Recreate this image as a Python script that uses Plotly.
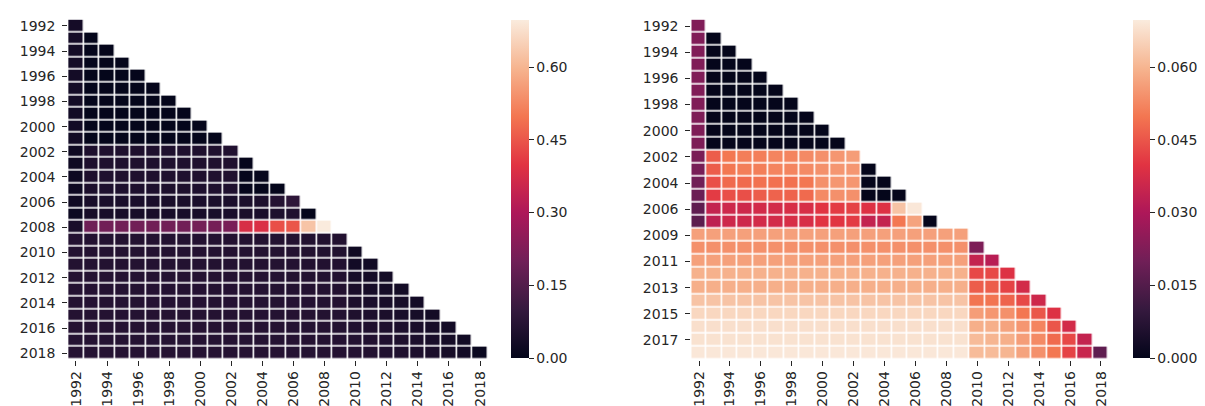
import plotly.graph_objects as go

# ---------------- data ----------------
col_years = list(range(1992, 2019))

left_row_labels = [str(y) for y in range(1992, 2019)]
left_rows = [
    [0.035],
    [0.035, 0.004],
    [0.034, 0.004, 0.004],
    [0.034, 0.004, 0.004, 0.004],
    [0.034, 0.004, 0.004, 0.004, 0.004],
    [0.034, 0.004, 0.004, 0.004, 0.004, 0.004],
    [0.033, 0.004, 0.004, 0.004, 0.004, 0.004, 0.004],
    [0.030, 0.004, 0.004, 0.004, 0.004, 0.004, 0.004, 0.004],
    [0.030, 0.004, 0.004, 0.004, 0.004, 0.004, 0.004, 0.004, 0.004],
    [0.030, 0.004, 0.004, 0.004, 0.004, 0.004, 0.004, 0.004, 0.004, 0.004],
    [0.022, 0.052, 0.056, 0.056, 0.056, 0.056, 0.055, 0.055, 0.056, 0.058, 0.060],
    [0.022, 0.052, 0.056, 0.056, 0.056, 0.056, 0.055, 0.055, 0.056, 0.058, 0.058, 0.005],
    [0.022, 0.052, 0.056, 0.056, 0.056, 0.056, 0.055, 0.055, 0.056, 0.058, 0.058, 0.005, 0.005],
    [0.022, 0.050, 0.054, 0.054, 0.054, 0.054, 0.053, 0.053, 0.054, 0.056, 0.056, 0.005, 0.004, 0.004],
    [0.026, 0.044, 0.046, 0.046, 0.046, 0.046, 0.045, 0.045, 0.046, 0.048, 0.048, 0.048, 0.050, 0.066, 0.085],
    [0.018, 0.040, 0.042, 0.042, 0.042, 0.042, 0.041, 0.041, 0.042, 0.043, 0.044, 0.045, 0.046, 0.054, 0.058, 0.004],
    [0.045, 0.195, 0.200, 0.200, 0.200, 0.200, 0.200, 0.200, 0.205, 0.208, 0.212, 0.380, 0.385, 0.440, 0.450, 0.627, 0.697],
    [0.064, 0.064, 0.064, 0.064, 0.064, 0.064, 0.064, 0.064, 0.064, 0.064, 0.064, 0.064, 0.064, 0.064, 0.064, 0.062, 0.062, 0.062],
    [0.064, 0.064, 0.064, 0.064, 0.064, 0.064, 0.064, 0.064, 0.064, 0.064, 0.064, 0.064, 0.064, 0.064, 0.063, 0.062, 0.060, 0.058, 0.025],
    [0.064, 0.064, 0.064, 0.064, 0.064, 0.064, 0.064, 0.064, 0.064, 0.064, 0.064, 0.064, 0.064, 0.064, 0.063, 0.062, 0.062, 0.060, 0.032, 0.030],
    [0.065, 0.065, 0.065, 0.065, 0.065, 0.065, 0.065, 0.065, 0.065, 0.065, 0.065, 0.065, 0.065, 0.065, 0.064, 0.064, 0.063, 0.062, 0.040, 0.036, 0.034],
    [0.065, 0.065, 0.065, 0.065, 0.065, 0.065, 0.065, 0.065, 0.065, 0.065, 0.065, 0.065, 0.065, 0.065, 0.064, 0.064, 0.063, 0.062, 0.045, 0.040, 0.036, 0.033],
    [0.066, 0.066, 0.066, 0.066, 0.066, 0.066, 0.066, 0.066, 0.066, 0.066, 0.066, 0.066, 0.066, 0.066, 0.065, 0.065, 0.064, 0.063, 0.050, 0.046, 0.042, 0.040, 0.032],
    [0.066, 0.066, 0.066, 0.066, 0.066, 0.066, 0.066, 0.066, 0.066, 0.066, 0.066, 0.066, 0.066, 0.066, 0.065, 0.065, 0.064, 0.063, 0.055, 0.052, 0.048, 0.044, 0.040, 0.033],
    [0.067, 0.067, 0.067, 0.067, 0.067, 0.067, 0.067, 0.067, 0.067, 0.067, 0.067, 0.067, 0.067, 0.067, 0.066, 0.066, 0.065, 0.064, 0.060, 0.056, 0.053, 0.049, 0.045, 0.040, 0.032],
    [0.068, 0.068, 0.068, 0.068, 0.068, 0.068, 0.068, 0.068, 0.068, 0.068, 0.068, 0.068, 0.068, 0.068, 0.067, 0.067, 0.066, 0.065, 0.063, 0.060, 0.057, 0.053, 0.049, 0.044, 0.038, 0.030],
    [0.069, 0.069, 0.069, 0.069, 0.069, 0.069, 0.069, 0.069, 0.069, 0.069, 0.069, 0.069, 0.069, 0.069, 0.068, 0.068, 0.067, 0.066, 0.066, 0.063, 0.060, 0.056, 0.052, 0.047, 0.040, 0.032, 0.014],
]

right_row_labels = [str(y) for y in list(range(1992, 2008)) + list(range(2009, 2019))]
right_rows = [
    [0.0225],
    [0.0225, 0.0003],
    [0.0225, 0.0003, 0.0003],
    [0.0225, 0.0003, 0.0003, 0.0003],
    [0.0225, 0.0003, 0.0003, 0.0003, 0.0003],
    [0.0225, 0.0003, 0.0003, 0.0003, 0.0003, 0.0003],
    [0.0225, 0.0003, 0.0003, 0.0003, 0.0003, 0.0003, 0.0003],
    [0.0222, 0.0003, 0.0003, 0.0003, 0.0003, 0.0003, 0.0003, 0.0003],
    [0.0222, 0.0003, 0.0003, 0.0003, 0.0003, 0.0003, 0.0003, 0.0003, 0.0003],
    [0.0220, 0.0003, 0.0003, 0.0003, 0.0003, 0.0003, 0.0003, 0.0003, 0.0003, 0.0003],
    [0.0215, 0.046, 0.050, 0.051, 0.051, 0.052, 0.052, 0.053, 0.054, 0.055, 0.056],
    [0.0212, 0.046, 0.050, 0.051, 0.051, 0.052, 0.052, 0.053, 0.054, 0.055, 0.055, 0.0003],
    [0.0200, 0.044, 0.048, 0.048, 0.049, 0.049, 0.049, 0.050, 0.054, 0.055, 0.055, 0.0003, 0.0003],
    [0.0190, 0.041, 0.044, 0.044, 0.046, 0.047, 0.047, 0.048, 0.053, 0.054, 0.054, 0.0003, 0.0003, 0.0003],
    [0.0170, 0.034, 0.036, 0.036, 0.037, 0.037, 0.038, 0.038, 0.040, 0.041, 0.042, 0.039, 0.039, 0.0625, 0.0690],
    [0.0165, 0.033, 0.036, 0.036, 0.037, 0.037, 0.038, 0.038, 0.040, 0.040, 0.041, 0.034, 0.034, 0.0500, 0.0570, 0.0003],
    [0.0565, 0.0565, 0.0565, 0.0565, 0.0565, 0.0565, 0.0565, 0.0565, 0.0565, 0.0565, 0.0565, 0.0565, 0.0565, 0.0565, 0.0565, 0.0565, 0.0565, 0.0565],
    [0.054, 0.054, 0.054, 0.054, 0.054, 0.054, 0.054, 0.054, 0.054, 0.054, 0.054, 0.054, 0.054, 0.054, 0.054, 0.054, 0.054, 0.054, 0.022],
    [0.0565, 0.0565, 0.0565, 0.0565, 0.0565, 0.0565, 0.0565, 0.0565, 0.0565, 0.0565, 0.0565, 0.0565, 0.0565, 0.0565, 0.0565, 0.0565, 0.0565, 0.0565, 0.034, 0.032],
    [0.0593, 0.0593, 0.0593, 0.0593, 0.0593, 0.0593, 0.0593, 0.0593, 0.0593, 0.0593, 0.0593, 0.0593, 0.0593, 0.0593, 0.0593, 0.0593, 0.0593, 0.0593, 0.043, 0.043, 0.039],
    [0.059, 0.059, 0.059, 0.059, 0.059, 0.059, 0.059, 0.059, 0.059, 0.059, 0.059, 0.059, 0.059, 0.059, 0.059, 0.059, 0.059, 0.059, 0.046, 0.046, 0.042, 0.037],
    [0.0625, 0.0625, 0.0625, 0.0625, 0.0625, 0.0625, 0.0625, 0.0625, 0.0625, 0.0625, 0.0625, 0.0625, 0.0625, 0.0625, 0.0625, 0.0625, 0.0625, 0.0625, 0.0495, 0.0495, 0.047, 0.043, 0.036],
    [0.066, 0.066, 0.066, 0.066, 0.066, 0.066, 0.066, 0.066, 0.066, 0.066, 0.066, 0.066, 0.066, 0.066, 0.066, 0.066, 0.066, 0.066, 0.056, 0.055, 0.054, 0.050, 0.045, 0.039],
    [0.0675, 0.0675, 0.0675, 0.0675, 0.0675, 0.0675, 0.0675, 0.0675, 0.0675, 0.0675, 0.0675, 0.0675, 0.0675, 0.0675, 0.0675, 0.0675, 0.0675, 0.0675, 0.059, 0.059, 0.057, 0.055, 0.052, 0.045, 0.037],
    [0.068, 0.068, 0.068, 0.068, 0.068, 0.068, 0.068, 0.068, 0.068, 0.068, 0.068, 0.068, 0.068, 0.068, 0.068, 0.068, 0.068, 0.068, 0.061, 0.060, 0.059, 0.056, 0.053, 0.048, 0.043, 0.034],
    [0.069, 0.069, 0.069, 0.069, 0.069, 0.069, 0.069, 0.069, 0.069, 0.069, 0.069, 0.069, 0.069, 0.069, 0.069, 0.069, 0.069, 0.069, 0.061, 0.061, 0.060, 0.057, 0.054, 0.050, 0.042, 0.035, 0.017],
]

left_max = 0.697
right_max = 0.0697
left_cbar_ticks = [0.0, 0.15, 0.30, 0.45, 0.60]
right_cbar_ticks = [0.0, 0.015, 0.030, 0.045, 0.060]
x_tick_years = list(range(1992, 2019, 2))
left_y_ticks = [str(y) for y in range(1992, 2019, 2)]
right_y_ticks = ["1992", "1994", "1996", "1998", "2000", "2002", "2004", "2006",
                 "2009", "2011", "2013", "2015", "2017"]

# seaborn "rocket" colormap
rocket = [
    [0.0, "#03051A"],
    [1 / 7, "#35193E"],
    [2 / 7, "#701F57"],
    [3 / 7, "#AD1759"],
    [4 / 7, "#E13342"],
    [5 / 7, "#F37651"],
    [6 / 7, "#F6B48F"],
    [1.0, "#FAEBDD"],
]


def pad(rows, n):
    return [r + [None] * (n - len(r)) for r in rows]


W, H = 1205, 406
TXT = "#262626"
FONT = dict(family="DejaVu Sans", size=14, color=TXT)

fig = go.Figure()

fig.add_trace(go.Heatmap(
    z=pad(left_rows, len(col_years)), x=col_years, y=left_row_labels,
    colorscale=rocket, zmin=0, zmax=left_max, xgap=1.6, ygap=1.6,
    hoverongaps=False,
    colorbar=dict(x=503.3 / W, xanchor="left", xpad=0, ypad=0,
                  y=1 - 181 / H, yanchor="middle",
                  lenmode="pixels", len=338, thicknessmode="pixels", thickness=17.5,
                  outlinewidth=0, tickvals=left_cbar_ticks, tickformat=".2f",
                  ticks="outside", ticklen=5, tickwidth=1, tickcolor=TXT,
                  tickfont=FONT),
    xaxis="x", yaxis="y",
))

fig.add_trace(go.Heatmap(
    z=pad(right_rows, len(col_years)), x=col_years, y=right_row_labels,
    colorscale=rocket, zmin=0, zmax=right_max, xgap=1.6, ygap=1.6,
    hoverongaps=False,
    colorbar=dict(x=1125 / W, xanchor="left", xpad=0, ypad=0,
                  y=1 - 181 / H, yanchor="middle",
                  lenmode="pixels", len=338, thicknessmode="pixels", thickness=17,
                  outlinewidth=0, tickvals=right_cbar_ticks, tickformat=".3f",
                  ticks="outside", ticklen=5, tickwidth=1, tickcolor=TXT,
                  tickfont=FONT),
    xaxis="x2", yaxis="y2",
))

ydom = [1 - 351.5 / H, 1 - 11.6 / H]
common_x = dict(range=[1991.5, 2018.5], tickvals=x_tick_years, tickangle=-90,
                ticks="outside", ticklen=5, tickwidth=1, tickcolor=TXT,
                showgrid=False, zeroline=False, showline=False,
                tickfont=FONT, automargin=False)
common_y = dict(type="category", autorange="reversed",
                ticks="outside", ticklen=5, tickwidth=1, tickcolor=TXT,
                ticklabelstandoff=4,
                showgrid=False, zeroline=False, showline=False,
                tickfont=FONT, automargin=False)

fig.update_layout(
    width=W, height=H,
    margin=dict(l=0, r=0, t=0, b=0),
    paper_bgcolor="white", plot_bgcolor="white",
    xaxis=dict(domain=[60.2 / W, 479.8 / W], anchor="y", **common_x),
    yaxis=dict(domain=ydom, anchor="x", tickvals=left_y_ticks, **common_y),
    xaxis2=dict(domain=[683.3 / W, 1100.7 / W], anchor="y2", **common_x),
    yaxis2=dict(domain=ydom, anchor="x2", tickvals=right_y_ticks, **common_y),
    font=FONT,
)

fig.write_html("out.html")
